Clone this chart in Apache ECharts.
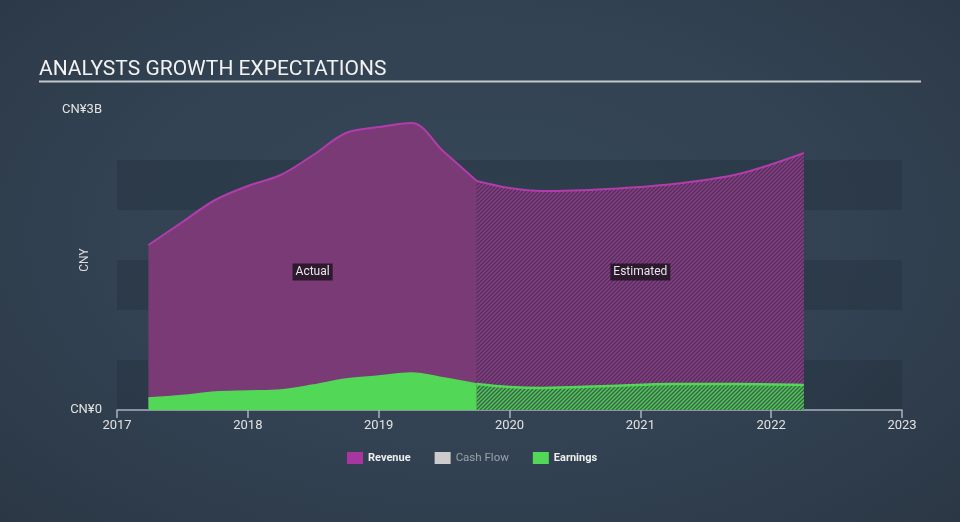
<!DOCTYPE html>
<html>
<head>
<meta charset="utf-8">
<script src="https://cdn.jsdelivr.net/npm/echarts@6/dist/echarts.min.js"></script>
<style>
html,body{margin:0;padding:0;width:960px;height:522px;overflow:hidden;}
body{background:radial-gradient(ellipse at 50% 45%, #364757 0%, #324252 55%, #2b3745 100%);}
#c{width:960px;height:522px;}
</style>
</head>
<body>
<div id="c"></div>
<script>
// ---- data ----
const actualYears = [2017.24, 2017.5, 2017.75, 2018.0, 2018.25, 2018.5, 2018.75, 2019.0, 2019.25, 2019.5, 2019.75];
const revenueActual = [1.65, 1.88, 2.10, 2.24, 2.35, 2.55, 2.77, 2.83, 2.87, 2.58, 2.29];
const earningsActual = [0.12, 0.145, 0.18, 0.19, 0.20, 0.25, 0.31, 0.34, 0.37, 0.32, 0.26];
const estYears = [2019.75, 2020.0, 2020.25, 2020.75, 2021.25, 2021.75, 2022.25];
const revenueEst = [2.29, 2.22, 2.19, 2.21, 2.26, 2.36, 2.57];
const earningsEst = [0.26, 0.23, 0.22, 0.24, 0.26, 0.26, 0.25];
const xTicks = [2017, 2018, 2019, 2020, 2021, 2022, 2023];
const yLabels = {0: 'CN¥0', 3: 'CN¥3B'};
const legendNames = ['Revenue', 'Cash Flow', 'Earnings'];
const actualLabel = {text: 'Actual', x: (2017.24 + 2019.75) / 2, y: 1.38};
const estLabel = {text: 'Estimated', x: (2019.75 + 2022.25) / 2, y: 1.38};

function pairs(xs, ys) { return xs.map((x, i) => [x, ys[i]]); }

function hatch(bg, fg, w) {
  const c = document.createElement('canvas');
  c.width = 4; c.height = 4;
  const g = c.getContext('2d');
  g.fillStyle = bg; g.fillRect(0, 0, 4, 4);
  g.strokeStyle = fg; g.lineWidth = w;
  g.beginPath();
  g.moveTo(0, 4); g.lineTo(4, 0);
  g.moveTo(-1, 1); g.lineTo(1, -1);
  g.moveTo(3, 5); g.lineTo(5, 3);
  g.stroke();
  return c;
}

const REV_LINE = '#b23cab', REV_FILL = '#7a3a75', EARN = '#52d856';
const labelStyle = {
  show: true, color: '#e6e6e6', fontSize: 12, fontFamily: 'Roboto',
  backgroundColor: 'rgba(35,22,38,0.88)', padding: [3, 3, 2, 3]
};

const chart = echarts.init(document.getElementById('c'), null, {renderer: 'canvas'});
chart.setOption({
  backgroundColor: 'transparent',
  animation: false,
  title: {
    text: 'ANALYSTS GROWTH EXPECTATIONS', left: 34, top: 54,
    textStyle: {color: '#f2f2f2', fontSize: 21, fontWeight: 'normal', fontFamily: 'Roboto'}
  },
  graphic: [{
    type: 'line', shape: {x1: 39, y1: 81.5, x2: 921, y2: 81.5},
    style: {stroke: '#c4c8cc', lineWidth: 2}
  }],
  grid: {left: 117, right: 58, top: 110, bottom: 112},
  legend: {
    left: 342, top: 447, itemWidth: 16, itemHeight: 12, itemGap: 24,
    icon: 'rect',
    textStyle: {color: '#eeeeee', fontSize: 11, fontWeight: 'bold', fontFamily: 'Roboto'},
    data: [
      {name: legendNames[0]},
      {name: legendNames[1], textStyle: {color: '#9aa2aa', fontWeight: 'normal', fontSize: 11.5}},
      {name: legendNames[2]}
    ],
    selectedMode: false
  },
  xAxis: {
    type: 'value', min: xTicks[0], max: xTicks[xTicks.length - 1], interval: 1,
    axisLine: {show: true, lineStyle: {color: '#a9b2bc', width: 1.5}},
    axisTick: {show: true, length: 8, lineStyle: {color: '#a9b2bc', width: 1.5}},
    axisLabel: {color: '#e2e2e2', fontSize: 13, fontFamily: 'Roboto', margin: 9,
      formatter: v => String(v)},
    splitLine: {show: false}
  },
  yAxis: {
    type: 'value', min: 0, max: 3, interval: 0.5,
    name: 'CNY', nameLocation: 'middle', nameGap: 26, nameRotate: 90,
    nameMoveOverlap: false,
    nameTextStyle: {color: '#dddddd', fontSize: 12, fontFamily: 'Roboto'},
    axisLine: {show: false}, axisTick: {show: false},
    axisLabel: {color: '#e2e2e2', fontSize: 13, fontFamily: 'Roboto', margin: 15,
      formatter: v => (yLabels[v] !== undefined ? yLabels[v] : '')},
    splitLine: {show: false},
    splitArea: {show: true, areaStyle: {color: ['rgba(20,30,40,0.2)', 'rgba(0,0,0,0)']}}
  },
  series: [
    {
      name: 'Revenue', type: 'line', smooth: 0.35, symbol: 'none', z: 2,
      color: '#a8369f',
      lineStyle: {color: REV_LINE, width: 2},
      areaStyle: {color: REV_FILL, opacity: 1},
      data: pairs(actualYears, revenueActual),
      markPoint: {
        symbol: 'rect', symbolSize: 0, silent: true,
        label: Object.assign({}, labelStyle, {position: 'inside', formatter: p => p.name}),
        data: [
          {name: actualLabel.text, coord: [actualLabel.x, actualLabel.y]},
          {name: estLabel.text, coord: [estLabel.x, estLabel.y]}
        ]
      }
    },
    {
      name: 'Revenue', type: 'line', smooth: 0.35, symbol: 'none', z: 2,
      color: '#a8369f',
      lineStyle: {color: REV_LINE, width: 2},
      areaStyle: {color: {image: hatch('#482f55', '#873d82', 1.7), repeat: 'repeat'}, opacity: 1},
      data: pairs(estYears, revenueEst)
    },
    {
      name: 'Cash Flow', type: 'line', symbol: 'none', color: '#cccccc', data: []
    },
    {
      name: 'Earnings', type: 'line', smooth: 0.35, symbol: 'none', z: 3,
      color: EARN,
      lineStyle: {color: EARN, width: 1.5},
      areaStyle: {color: EARN, opacity: 1},
      data: pairs(actualYears, earningsActual)
    },
    {
      name: 'Earnings', type: 'line', smooth: 0.35, symbol: 'none', z: 3,
      color: EARN,
      lineStyle: {color: EARN, width: 2.5},
      areaStyle: {color: {image: hatch('#38604a', '#52c956', 1.5), repeat: 'repeat'}, opacity: 1},
      data: pairs(estYears, earningsEst)
    }
  ]
});
</script>
</body>
</html>
